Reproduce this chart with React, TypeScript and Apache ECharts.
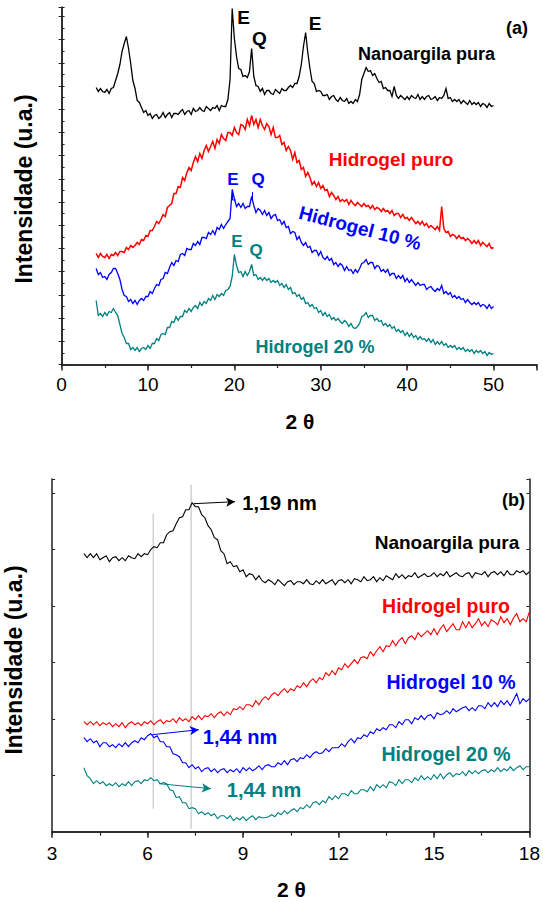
import React, { useEffect, useRef } from "react";
import * as echarts from "echarts";

// ---------- Panel (a): XRD 2θ = 4..50, sampled every 0.25° ----------
const A_START = 4;
const A_STEP = 0.25;

const nanoA = [
  277, 273, 276, 273, 272, 275, 271, 276,
  277, 284, 291, 300, 313, 321, 328, 316,
  301, 284, 276, 264, 262, 257, 252, 254,
  249, 251, 246, 249, 250, 246, 248, 252,
  247, 250, 252, 247, 251, 251, 250, 253,
  255, 250, 253, 254, 250, 256, 253, 254,
  257, 254, 253, 258, 256, 254, 257, 256,
  259, 254, 259, 258, 258, 265, 285, 356,
  326, 308, 296, 295, 288, 289, 287, 293,
  316, 288, 279, 278, 273, 276, 270, 274,
  274, 271, 270, 275, 273, 271, 276, 274,
  274, 277, 279, 277, 281, 281, 288, 300,
  318, 332, 312, 296, 283, 281, 273, 274,
  273, 269, 269, 270, 265, 268, 269, 265,
  263, 267, 264, 263, 266, 261, 263, 261,
  265, 263, 270, 285, 291, 297, 293, 294,
  289, 291, 286, 282, 283, 276, 277, 274,
  274, 268, 278, 269, 266, 269, 267, 265,
  268, 265, 269, 267, 266, 270, 265, 268,
  265, 268, 269, 265, 266, 268, 264, 267,
  266, 269, 276, 266, 267, 263, 265, 263,
  265, 261, 264, 262, 260, 264, 260, 262,
  260, 262, 258, 261, 260, 257, 261, 258,
  259,
];

const puroA = [
  111, 107, 111, 108, 107, 110, 106, 110,
  109, 112, 109, 113, 113, 112, 117, 115,
  119, 117, 119, 122, 120, 125, 124, 129,
  128, 134, 134, 138, 143, 141, 145, 150,
  148, 157, 159, 161, 171, 171, 178, 177,
  187, 184, 192, 197, 194, 202, 208, 203,
  211, 206, 214, 219, 213, 218, 223, 216,
  225, 221, 230, 226, 224, 232, 232, 229,
  237, 232, 230, 240, 239, 235, 245, 239,
  249, 240, 245, 237, 245, 239, 235, 241,
  238, 230, 237, 227, 227, 229, 220, 222,
  214, 218, 214, 205, 212, 202, 204, 195,
  197, 188, 192, 187, 180, 183, 178, 182,
  176, 179, 174, 175, 168, 172, 169, 165,
  168, 163, 165, 163, 165, 160, 164, 161,
  159, 162, 160, 158, 161, 158, 159, 156,
  159, 155, 157, 156, 153, 156, 153, 154,
  151, 154, 149, 151, 151, 147, 150, 146,
  147, 144, 147, 144, 141, 143, 140, 143,
  139, 141, 137, 139, 137, 135, 138, 134,
  158, 136, 132, 133, 128, 130, 129, 126,
  129, 126, 127, 124, 126, 124, 121, 124,
  121, 124, 119, 122, 120, 118, 121, 116,
  117,
];

const gel10A = [
  96, 90, 92, 87, 88, 85, 90, 92,
  96, 96, 91, 85, 75, 69, 68, 63,
  65, 61, 64, 60, 64, 66, 64, 68,
  68, 73, 71, 76, 80, 79, 85, 86,
  92, 91, 97, 102, 99, 104, 103, 110,
  111, 109, 116, 115, 115, 121, 119, 123,
  120, 127, 127, 126, 132, 130, 134, 130,
  137, 135, 140, 136, 140, 143, 146, 175,
  166, 158, 161, 157, 161, 156, 158, 158,
  168, 159, 152, 156, 154, 150, 154, 149,
  152, 146, 149, 150, 144, 145, 140, 143,
  137, 138, 131, 133, 132, 125, 128, 122,
  119, 122, 117, 118, 112, 114, 114, 109,
  113, 107, 105, 108, 104, 106, 100, 102,
  98, 101, 99, 94, 98, 94, 95, 91,
  95, 92, 96, 101, 102, 105, 100, 102,
  102, 96, 99, 98, 93, 95, 92, 95,
  89, 91, 91, 86, 89, 86, 89, 83,
  86, 82, 85, 82, 79, 82, 79, 80,
  80, 75, 77, 78, 75, 73, 76, 74,
  79, 71, 73, 70, 72, 67, 69, 66,
  68, 65, 66, 62, 65, 62, 60, 62,
  60, 62, 58, 60, 59, 56, 60, 56,
  58,
];

const gel20A = [
  64, 49, 51, 48, 52, 49, 53, 52,
  56, 52, 49, 40, 31, 27, 21, 21,
  15, 17, 14, 17, 13, 16, 17, 15,
  19, 16, 21, 21, 26, 24, 30, 31,
  30, 37, 37, 43, 42, 48, 44, 48,
  48, 54, 52, 56, 53, 57, 59, 56,
  62, 59, 63, 61, 66, 64, 69, 65,
  70, 68, 71, 69, 74, 75, 78, 88,
  110, 99, 92, 93, 88, 93, 89, 93,
  100, 89, 90, 85, 87, 84, 87, 84,
  86, 82, 84, 82, 84, 79, 81, 77,
  80, 75, 77, 71, 72, 68, 70, 65,
  67, 61, 62, 58, 60, 56, 57, 52,
  54, 49, 52, 48, 50, 45, 47, 44,
  46, 43, 41, 44, 42, 38, 41, 37,
  36, 38, 41, 48, 49, 52, 47, 49,
  49, 44, 46, 43, 44, 39, 41, 38,
  40, 36, 38, 33, 35, 32, 34, 29,
  32, 28, 31, 27, 29, 25, 28, 25,
  26, 23, 26, 22, 25, 20, 23, 20,
  23, 19, 21, 17, 19, 17, 19, 15,
  17, 15, 17, 13, 15, 13, 15, 11,
  14, 12, 14, 11, 13, 9, 12, 10,
  11,
];

// ---------- Panel (b): low-angle region 2θ = 4..18, sampled every 0.1° ----------
const B_START = 4;
const B_STEP = 0.1;

const nanoB = [
  278, 274, 278, 274, 278, 272, 274, 276, 270, 274,
  275, 271, 274, 271, 276, 274, 273, 278, 275, 278,
  277, 282, 285, 284, 289, 289, 297, 300, 301, 308,
  314, 315, 322, 322, 329, 325, 325, 317, 314, 306,
  302, 294, 292, 281, 278, 268, 270, 265, 266, 260,
  262, 255, 258, 257, 252, 256, 251, 249, 252, 250,
  247, 252, 249, 246, 250, 251, 247, 250, 250, 248,
  252, 248, 247, 251, 248, 252, 248, 250, 252, 247,
  251, 252, 249, 252, 248, 253, 252, 250, 255, 251,
  252, 255, 250, 254, 251, 256, 254, 252, 258, 254,
  257, 253, 256, 255, 259, 254, 256, 258, 255, 256,
  259, 255, 258, 256, 260, 255, 257, 259, 256, 255,
  258, 259, 254, 259, 258, 257, 260, 255, 259, 260,
  257, 260, 256, 261, 257, 257, 261, 259, 261, 257,
  260,
];

const puroB = [
  110, 107, 110, 107, 110, 106, 109, 107, 109, 105,
  108, 105, 109, 104, 108, 110, 107, 109, 106, 110,
  108, 111, 107, 110, 112, 108, 111, 110, 113, 109,
  114, 111, 113, 110, 115, 112, 116, 112, 116, 115,
  118, 114, 118, 120, 116, 120, 117, 123, 122, 125,
  122, 127, 127, 125, 131, 127, 132, 135, 132, 137,
  139, 136, 140, 143, 139, 143, 141, 146, 144, 149,
  145, 150, 153, 149, 154, 152, 159, 156, 161, 157,
  164, 162, 168, 164, 168, 172, 168, 174, 175, 173,
  180, 176, 181, 185, 180, 186, 185, 191, 186, 191,
  194, 188, 194, 196, 192, 199, 195, 198, 201, 197,
  203, 197, 203, 207, 200, 204, 208, 202, 202, 210,
  204, 210, 204, 208, 213, 206, 210, 205, 212, 210,
  207, 215, 209, 213, 207, 214, 218, 210, 213, 210,
  220,
];

const gel10B = [
  94, 90, 93, 89, 91, 85, 89, 89, 85, 87,
  84, 88, 85, 89, 85, 89, 91, 89, 94, 92,
  96, 98, 94, 96, 90, 90, 85, 85, 78, 77,
  75, 69, 69, 64, 67, 63, 65, 60, 63, 64,
  60, 63, 59, 62, 63, 59, 62, 60, 63, 59,
  64, 61, 64, 61, 63, 66, 62, 66, 67, 65,
  65, 69, 67, 71, 67, 72, 73, 70, 74, 73,
  77, 74, 78, 80, 78, 79, 83, 80, 84, 84,
  84, 88, 85, 90, 93, 89, 94, 93, 97, 95,
  100, 98, 103, 101, 104, 102, 107, 107, 104, 110,
  107, 112, 112, 108, 114, 112, 116, 112, 116, 117,
  113, 119, 117, 118, 121, 118, 123, 120, 122, 124,
  125, 121, 124, 121, 126, 126, 123, 129, 125, 129,
  125, 131, 127, 131, 126, 132, 138, 128, 133, 130,
  133,
];

const gel20B = [
  64, 56, 53, 48, 51, 48, 50, 46, 48, 46,
  49, 45, 48, 46, 50, 46, 50, 51, 48, 52,
  51, 54, 51, 52, 48, 49, 48, 42, 41, 34,
  35, 29, 29, 23, 24, 23, 18, 20, 17, 19,
  16, 18, 13, 16, 16, 13, 16, 11, 14, 12,
  15, 11, 14, 16, 12, 15, 14, 14, 15, 17,
  15, 19, 17, 21, 18, 21, 23, 20, 24, 23,
  27, 24, 29, 30, 27, 31, 29, 35, 32, 36,
  33, 38, 38, 36, 41, 38, 38, 42, 42, 40,
  45, 41, 47, 44, 47, 44, 50, 49, 46, 52,
  48, 52, 52, 49, 54, 51, 56, 52, 55, 52,
  57, 53, 58, 53, 57, 59, 55, 58, 57, 60,
  56, 61, 58, 61, 58, 61, 62, 59, 62, 60,
  64, 60, 63, 61, 65, 61, 64, 66, 62, 65,
  65,
];

// Guide lines in panel (b) at the two d-spacings (2θ, from, to)
const guideX = [6.18, 7.37];
const guideFrom = [23, 3];
const guideTo = [318, 347];

// Arrows in panel (b): [x1, y1, x2, y2]
const arrowNano = [7.45, 328, 8.75, 330];
const arrow10 = [6.15, 97, 7.61, 102];
const arrow20 = [6.36, 48, 7.99, 43];

const C_BLACK = "#000000";
const C_RED = "#ff0000";
const C_BLUE = "#0000ff";
const C_TEAL = "#008080";
const FONT = '"Liberation Sans", Arial, sans-serif';

function toPairs(values: number[], start: number, step: number) {
  return values.map((v, i) => [Number((start + i * step).toFixed(3)), v]);
}

function arrowMark(a: number[], color: string) {
  return {
    silent: true,
    symbol: ["none", "arrow"],
    symbolSize: [7, 9],
    label: { show: false },
    lineStyle: { color, width: 1, type: "solid" },
    data: [[{ coord: [a[0], a[1]] }, { coord: [a[2], a[3]] }]],
  };
}

function txt(
  text: string,
  x: number,
  y: number,
  color: string,
  size: number,
  rotation = 0,
  weight = "bold"
) {
  return {
    type: "text",
    x,
    y,
    rotation,
    silent: true,
    z: 50,
    style: {
      text,
      fill: color,
      font: `${weight} ${size}px ${FONT}`,
      align: "center",
      verticalAlign: "middle",
      textAlign: "center",
      textVerticalAlign: "middle",
    },
  };
}

const axisLineStyle = { color: "#222", width: 1.5 };

export default function App() {
  const ref = useRef<HTMLDivElement>(null);

  useEffect(() => {
    if (!ref.current) return;
    const chart = echarts.init(ref.current, undefined, { renderer: "svg" });

    const lineSeries = (
      name: string,
      data: number[][],
      color: string,
      xi: number,
      yi: number,
      width = 1,
      extra: any = {}
    ) => ({
      name,
      type: "line",
      xAxisIndex: xi,
      yAxisIndex: yi,
      data,
      showSymbol: false,
      symbol: "none",
      lineStyle: { color, width, join: "miter" },
      itemStyle: { color },
      silent: true,
      z: 5,
      ...extra,
    });

    const guideSeries = guideX.map((gx, i) => ({
      type: "line",
      xAxisIndex: 2,
      yAxisIndex: 2,
      data: [
        [gx, guideFrom[i]],
        [gx, guideTo[i]],
      ],
      showSymbol: false,
      symbol: "none",
      lineStyle: { color: "#d2d2d2", width: 1.5 },
      silent: true,
      z: 1,
    }));

    const hiddenY = (gridIndex: number, max: number, interval: number, position?: string) => ({
      gridIndex,
      type: "value",
      position,
      min: 0,
      max,
      interval,
      axisLine: { show: true, lineStyle: axisLineStyle },
      axisTick: { show: true, inside: true, length: 3, lineStyle: { color: "#222", width: 1 } },
      axisLabel: { show: false },
      splitLine: { show: false },
    });

    const option: any = {
      animation: false,
      backgroundColor: "#ffffff",
      grid: [
        { left: 61.6, right: 6.3, top: 7.3, height: 357.2 },
        { left: 52.1, right: 13, top: 479, height: 352.7 },
      ],
      xAxis: [
        {
          gridIndex: 0,
          type: "value",
          min: 0,
          max: 55,
          interval: 10,
          axisLine: { show: true, lineStyle: axisLineStyle },
          axisTick: { show: true, inside: false, length: 6, lineStyle: axisLineStyle },
          minorTick: { show: true, splitNumber: 2, length: 3.5, lineStyle: { color: "#222", width: 1.2 } },
          axisLabel: {
            show: true,
            fontFamily: FONT,
            fontSize: 19,
            color: "#000",
            margin: 10,
            formatter: (v: number) => (v > 50 ? "" : String(v)),
          },
          splitLine: { show: false },
        },
        {
          gridIndex: 0,
          type: "value",
          position: "top",
          min: 0,
          max: 55,
          interval: 5,
          axisLine: { show: true, lineStyle: axisLineStyle },
          axisTick: { show: true, inside: true, length: 3, lineStyle: { color: "#222", width: 1 } },
          axisLabel: { show: false },
          splitLine: { show: false },
        },
        {
          gridIndex: 1,
          type: "value",
          min: 3,
          max: 18,
          interval: 3,
          axisLine: { show: true, lineStyle: axisLineStyle },
          axisTick: { show: true, inside: false, length: 6, lineStyle: axisLineStyle },
          minorTick: { show: true, splitNumber: 2, length: 4, lineStyle: { color: "#222", width: 1.2 } },
          axisLabel: { show: true, fontFamily: FONT, fontSize: 19, color: "#000", margin: 12 },
          splitLine: { show: false },
        },
        {
          gridIndex: 1,
          type: "value",
          position: "top",
          min: 3,
          max: 18,
          interval: 1.5,
          axisLine: { show: true, lineStyle: axisLineStyle },
          axisTick: { show: true, inside: true, length: 3, lineStyle: { color: "#222", width: 1 } },
          axisLabel: { show: false },
          splitLine: { show: false },
        },
      ],
      yAxis: [
        hiddenY(0, 357.2, 11.6),
        hiddenY(0, 357.2, 23.2, "right"),
        hiddenY(1, 352.7, 56.4),
        hiddenY(1, 352.7, 56.4, "right"),
      ],
      series: [
        lineSeries("Nanoargila pura (a)", toPairs(nanoA, A_START, A_STEP), C_BLACK, 0, 0, 1.3),
        lineSeries("Hidrogel puro (a)", toPairs(puroA, A_START, A_STEP), C_RED, 0, 0, 1.5),
        lineSeries("Hidrogel 10 % (a)", toPairs(gel10A, A_START, A_STEP), C_BLUE, 0, 0, 1.3),
        lineSeries("Hidrogel 20 % (a)", toPairs(gel20A, A_START, A_STEP), C_TEAL, 0, 0, 1.3),
        ...guideSeries,
        lineSeries("Nanoargila pura (b)", toPairs(nanoB, B_START, B_STEP), C_BLACK, 2, 2, 1.1, {
          markLine: arrowMark(arrowNano, C_BLACK),
        }),
        lineSeries("Hidrogel puro (b)", toPairs(puroB, B_START, B_STEP), C_RED, 2, 2, 1.1),
        lineSeries("Hidrogel 10 % (b)", toPairs(gel10B, B_START, B_STEP), C_BLUE, 2, 2, 1.1, {
          markLine: arrowMark(arrow10, C_BLUE),
        }),
        lineSeries("Hidrogel 20 % (b)", toPairs(gel20B, B_START, B_STEP), C_TEAL, 2, 2, 1.1, {
          markLine: arrowMark(arrow20, C_TEAL),
        }),
      ],
      graphic: [
        // panel (a)
        txt("E", 243.5, 17.5, C_BLACK, 19),
        txt("Q", 259.5, 38.5, C_BLACK, 19),
        txt("E", 315, 23.5, C_BLACK, 19),
        txt("(a)", 517, 27.5, C_BLACK, 18),
        txt("Nanoargila pura", 426.5, 54, C_BLACK, 18),
        txt("Hidrogel puro", 391, 159, C_RED, 19),
        txt("E", 233, 179, C_BLUE, 17),
        txt("Q", 258, 179, C_BLUE, 17),
        {
          type: "polyline",
          silent: true,
          shape: { points: [[232.5, 192], [232.5, 200], [235.5, 200]] },
          style: { stroke: C_BLUE, lineWidth: 1, fill: null },
        },
        {
          type: "polyline",
          silent: true,
          shape: { points: [[252.5, 192], [252.5, 200]] },
          style: { stroke: C_BLUE, lineWidth: 1, fill: null },
        },
        txt("Hidrogel 10 %", 360, 228, C_BLUE, 19, -0.256),
        txt("E", 237, 241, C_TEAL, 17),
        txt("Q", 256, 250, C_TEAL, 17),
        txt("Hidrogel 20 %", 315, 347, C_TEAL, 18),
        txt("2 \u03b8", 300, 421.7, C_BLACK, 21),
        txt("Intensidade (u.a.)", 24.3, 189, C_BLACK, 23, Math.PI / 2),
        // panel (b)
        txt("1,19 nm", 279.5, 503, C_BLACK, 20),
        txt("(b)", 513.6, 500, C_BLACK, 18),
        txt("Nanoargila pura", 447, 542.5, C_BLACK, 19),
        txt("Hidrogel puro", 446, 606, C_RED, 19.5),
        txt("Hidrogel 10 %", 451, 681.7, C_BLUE, 19.5),
        txt("1,44 nm", 240, 736.7, C_BLUE, 20),
        txt("Hidrogel 20 %", 446, 754, C_TEAL, 19.5),
        txt("1,44 nm", 264, 790, C_TEAL, 20),
        txt("2 \u03b8", 291.5, 889, C_BLACK, 21),
        txt("Intensidade (u.a.)", 14, 660, C_BLACK, 23, Math.PI / 2),
      ],
    };

    chart.setOption(option);
    return () => {
      chart.dispose();
    };
  }, []);

  return (
    <div
      ref={ref}
      style={{ position: "fixed", left: 0, top: 0, width: 543, height: 902, background: "#fff" }}
    />
  );
}
